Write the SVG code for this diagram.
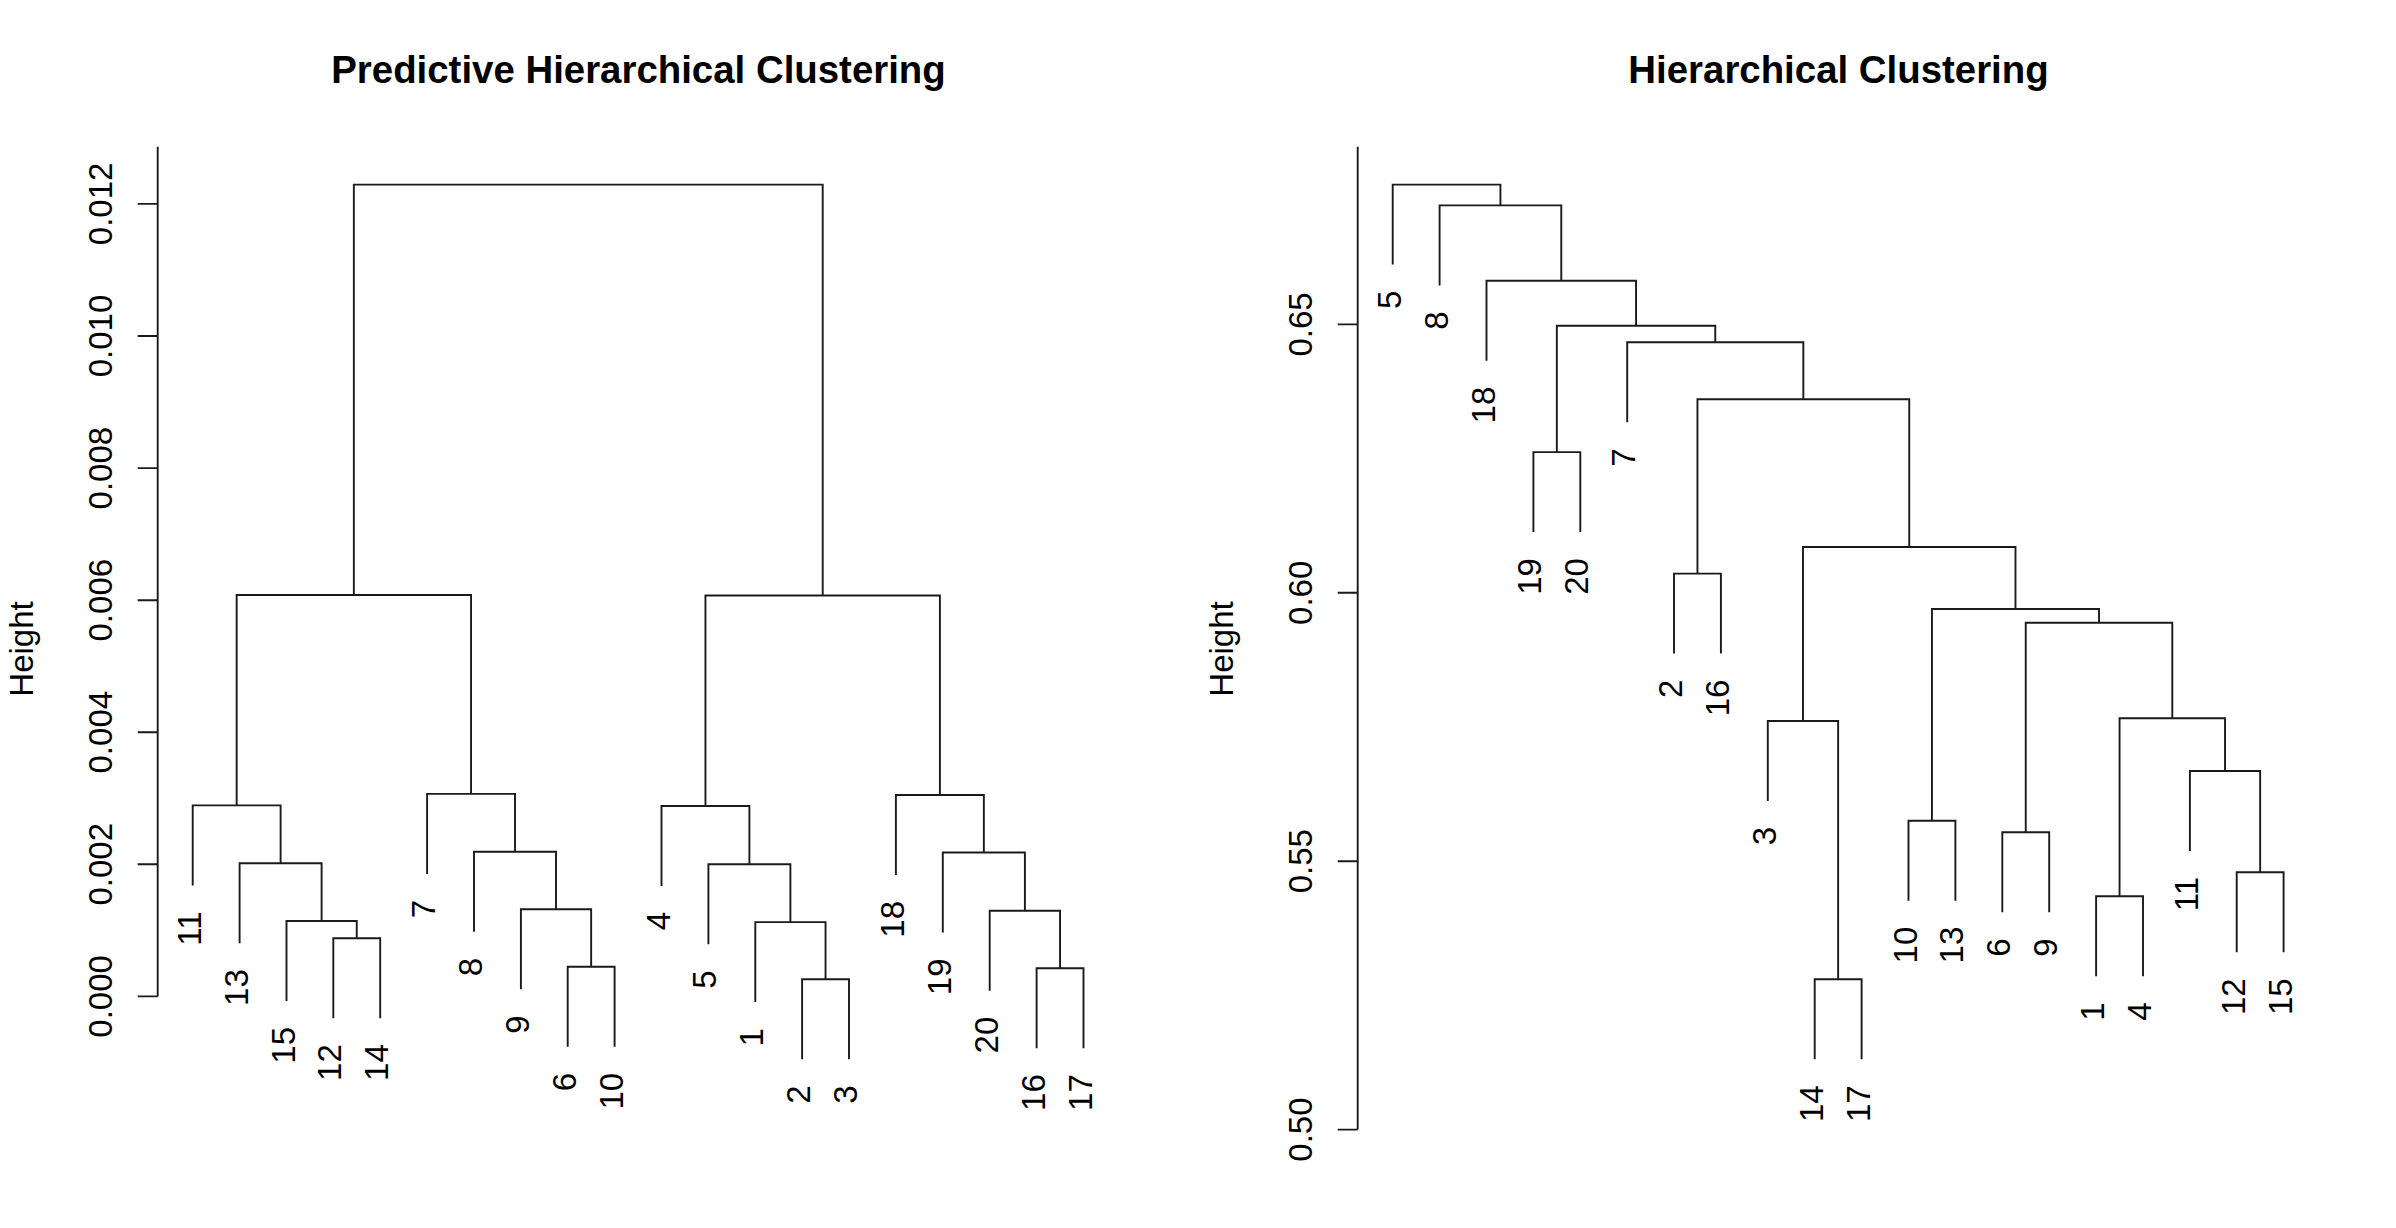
<svg xmlns="http://www.w3.org/2000/svg" width="2396" height="1228" viewBox="0 0 2396 1228">
<style>
.bg{fill:#fff}
.ln{fill:none;stroke:#1a1a1a;stroke-width:1.9;stroke-linecap:butt;stroke-linejoin:miter}
.t{font-family:"Liberation Sans",Arial,Helvetica,sans-serif;font-size:33px;fill:#000}
.lab{text-anchor:end}
.tick{text-anchor:middle}
.title{font-family:"Liberation Sans",Arial,Helvetica,sans-serif;font-size:38.4px;font-weight:bold;fill:#000;text-anchor:middle}
</style>
<rect class="bg" x="0" y="0" width="2396" height="1228"/>

<!-- LEFT PLOT -->
<g id="left-plot">
  <text class="title" x="638.5" y="83">Predictive Hierarchical Clustering</text>
  <g id="left-axis">
    <path class="ln" d="M157.7 146.8 V996.4 M137.7 996.4 H157.7 M137.7 864.3 H157.7 M137.7 732.2 H157.7 M137.7 600.2 H157.7 M137.7 468.1 H157.7 M137.7 336 H157.7 M137.7 203.9 H157.7"/>
    <text class="t tick" transform="translate(111.5,996.4) rotate(-90)">0.000</text>
    <text class="t tick" transform="translate(111.5,864.3) rotate(-90)">0.002</text>
    <text class="t tick" transform="translate(111.5,732.2) rotate(-90)">0.004</text>
    <text class="t tick" transform="translate(111.5,600.2) rotate(-90)">0.006</text>
    <text class="t tick" transform="translate(111.5,468.1) rotate(-90)">0.008</text>
    <text class="t tick" transform="translate(111.5,336) rotate(-90)">0.010</text>
    <text class="t tick" transform="translate(111.5,203.9) rotate(-90)">0.012</text>
    <text class="t tick" transform="translate(33,649) rotate(-90)">Height</text>
  </g>
  <g id="left-connectors">
    <path class="ln" d="M333.3 1018.2 V938.2 H380.2 V1018.2"/>
    <path class="ln" d="M286.5 1001 V921 H356.75 V938.2"/>
    <path class="ln" d="M239.6 943.2 V863.2 H321.6 V921"/>
    <path class="ln" d="M192.7 885.4 V805.4 H280.6 V863.2"/>
    <path class="ln" d="M567.7 1046.8 V966.8 H614.6 V1046.8"/>
    <path class="ln" d="M520.9 989.3 V909.3 H591.15 V966.8"/>
    <path class="ln" d="M474 931.8 V851.8 H556 V909.3"/>
    <path class="ln" d="M427.1 873.9 V793.9 H515 V851.8"/>
    <path class="ln" d="M236.65 805.4 V595 H471.05 V793.9"/>
    <path class="ln" d="M802.1 1059.3 V979.3 H849 V1059.3"/>
    <path class="ln" d="M755.3 1002.1 V922.1 H825.55 V979.3"/>
    <path class="ln" d="M708.4 944.3 V864.3 H790.4 V922.1"/>
    <path class="ln" d="M661.5 886 V806 H749.4 V864.3"/>
    <path class="ln" d="M1036.6 1048.2 V968.2 H1083.5 V1048.2"/>
    <path class="ln" d="M989.7 990.7 V910.7 H1060.05 V968.2"/>
    <path class="ln" d="M942.8 932.5 V852.5 H1024.9 V910.7"/>
    <path class="ln" d="M895.9 875 V795 H983.85 V852.5"/>
    <path class="ln" d="M705.45 806 V595.5 H939.9 V795"/>
    <path class="ln" d="M353.85 595 V184.6 H822.7 V595.5"/>
  </g>
  <g id="left-leaves">
    <g id="L11"><text class="t lab" transform="translate(200.7,911.4) rotate(-90)">11</text></g>
    <g id="L13"><text class="t lab" transform="translate(247.6,969.2) rotate(-90)">13</text></g>
    <g id="L15"><text class="t lab" transform="translate(294.5,1027) rotate(-90)">15</text></g>
    <g id="L12"><text class="t lab" transform="translate(341.3,1044.2) rotate(-90)">12</text></g>
    <g id="L14"><text class="t lab" transform="translate(388.2,1044.2) rotate(-90)">14</text></g>
    <g id="L7"><text class="t lab" transform="translate(435.1,899.9) rotate(-90)">7</text></g>
    <g id="L8"><text class="t lab" transform="translate(482,957.8) rotate(-90)">8</text></g>
    <g id="L9"><text class="t lab" transform="translate(528.9,1015.3) rotate(-90)">9</text></g>
    <g id="L6"><text class="t lab" transform="translate(575.7,1072.8) rotate(-90)">6</text></g>
    <g id="L10"><text class="t lab" transform="translate(622.6,1072.8) rotate(-90)">10</text></g>
    <g id="L4"><text class="t lab" transform="translate(669.5,912) rotate(-90)">4</text></g>
    <g id="L5"><text class="t lab" transform="translate(716.4,970.3) rotate(-90)">5</text></g>
    <g id="L1"><text class="t lab" transform="translate(763.3,1028.1) rotate(-90)">1</text></g>
    <g id="L2"><text class="t lab" transform="translate(810.1,1085.3) rotate(-90)">2</text></g>
    <g id="L3"><text class="t lab" transform="translate(857,1085.3) rotate(-90)">3</text></g>
    <g id="L18"><text class="t lab" transform="translate(903.9,901) rotate(-90)">18</text></g>
    <g id="L19"><text class="t lab" transform="translate(950.8,958.5) rotate(-90)">19</text></g>
    <g id="L20"><text class="t lab" transform="translate(997.7,1016.7) rotate(-90)">20</text></g>
    <g id="L16"><text class="t lab" transform="translate(1044.6,1074.2) rotate(-90)">16</text></g>
    <g id="L17"><text class="t lab" transform="translate(1091.5,1074.2) rotate(-90)">17</text></g>
  </g>
</g>

<!-- RIGHT PLOT -->
<g id="right-plot">
  <text class="title" x="1838.5" y="83">Hierarchical Clustering</text>
  <g id="right-axis">
    <path class="ln" d="M1357.7 146.8 V1129.6 M1337.7 1129.6 H1357.7 M1337.7 861.2 H1357.7 M1337.7 592.8 H1357.7 M1337.7 324.4 H1357.7"/>
    <text class="t tick" transform="translate(1311.5,1129.6) rotate(-90)">0.50</text>
    <text class="t tick" transform="translate(1311.5,861.2) rotate(-90)">0.55</text>
    <text class="t tick" transform="translate(1311.5,592.8) rotate(-90)">0.60</text>
    <text class="t tick" transform="translate(1311.5,324.4) rotate(-90)">0.65</text>
    <text class="t tick" transform="translate(1233,649) rotate(-90)">Height</text>
  </g>
  <g id="right-connectors">
    <path class="ln" d="M1533.4 532.1 V452.1 H1580.3 V532.1"/>
    <path class="ln" d="M1674 653.6 V573.6 H1720.9 V653.6"/>
    <path class="ln" d="M1814.7 1059.3 V979.3 H1861.6 V1059.3"/>
    <path class="ln" d="M1767.8 801 V721 H1838.15 V979.3"/>
    <path class="ln" d="M1908.5 900.7 V820.7 H1955.4 V900.7"/>
    <path class="ln" d="M2002.3 912.3 V832.3 H2049.2 V912.3"/>
    <path class="ln" d="M2096.1 976.3 V896.3 H2143 V976.3"/>
    <path class="ln" d="M2236.7 952.3 V872.3 H2283.6 V952.3"/>
    <path class="ln" d="M2189.9 851 V771 H2260.15 V872.3"/>
    <path class="ln" d="M2119.55 896.3 V718.3 H2225.03 V771"/>
    <path class="ln" d="M2025.75 832.3 V622.7 H2172.29 V718.3"/>
    <path class="ln" d="M1931.95 820.7 V609 H2099.02 V622.7"/>
    <path class="ln" d="M1802.98 721 V547 H2015.49 V609"/>
    <path class="ln" d="M1697.45 573.6 V399.3 H1909.24 V547"/>
    <path class="ln" d="M1627.2 422.3 V342.3 H1803.35 V399.3"/>
    <path class="ln" d="M1556.85 452.1 V325.7 H1715.27 V342.3"/>
    <path class="ln" d="M1486.5 360.7 V280.7 H1636.06 V325.7"/>
    <path class="ln" d="M1439.6 285.4 V205.4 H1561.28 V280.7"/>
    <path class="ln" d="M1392.7 264.6 V184.6 H1500.44 V205.4"/>
  </g>
  <g id="right-leaves">
    <g id="R5"><text class="t lab" transform="translate(1400.7,290.6) rotate(-90)">5</text></g>
    <g id="R8"><text class="t lab" transform="translate(1447.6,311.4) rotate(-90)">8</text></g>
    <g id="R18"><text class="t lab" transform="translate(1494.5,386.7) rotate(-90)">18</text></g>
    <g id="R19"><text class="t lab" transform="translate(1541.4,558.1) rotate(-90)">19</text></g>
    <g id="R20"><text class="t lab" transform="translate(1588.3,558.1) rotate(-90)">20</text></g>
    <g id="R7"><text class="t lab" transform="translate(1635.2,448.3) rotate(-90)">7</text></g>
    <g id="R2"><text class="t lab" transform="translate(1682,679.6) rotate(-90)">2</text></g>
    <g id="R16"><text class="t lab" transform="translate(1728.9,679.6) rotate(-90)">16</text></g>
    <g id="R3"><text class="t lab" transform="translate(1775.8,827) rotate(-90)">3</text></g>
    <g id="R14"><text class="t lab" transform="translate(1822.7,1085.3) rotate(-90)">14</text></g>
    <g id="R17"><text class="t lab" transform="translate(1869.6,1085.3) rotate(-90)">17</text></g>
    <g id="R10"><text class="t lab" transform="translate(1916.5,926.7) rotate(-90)">10</text></g>
    <g id="R13"><text class="t lab" transform="translate(1963.4,926.7) rotate(-90)">13</text></g>
    <g id="R6"><text class="t lab" transform="translate(2010.3,938.3) rotate(-90)">6</text></g>
    <g id="R9"><text class="t lab" transform="translate(2057.2,938.3) rotate(-90)">9</text></g>
    <g id="R1"><text class="t lab" transform="translate(2104.1,1002.3) rotate(-90)">1</text></g>
    <g id="R4"><text class="t lab" transform="translate(2151,1002.3) rotate(-90)">4</text></g>
    <g id="R11"><text class="t lab" transform="translate(2197.9,877) rotate(-90)">11</text></g>
    <g id="R12"><text class="t lab" transform="translate(2244.7,978.3) rotate(-90)">12</text></g>
    <g id="R15"><text class="t lab" transform="translate(2291.6,978.3) rotate(-90)">15</text></g>
  </g>
</g>
</svg>
